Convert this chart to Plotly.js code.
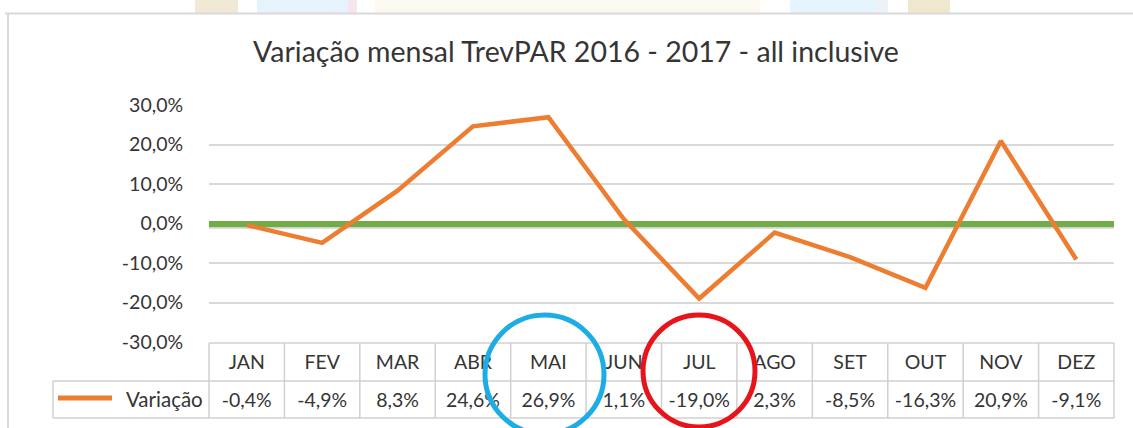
<!DOCTYPE html>
<html><head><meta charset="utf-8">
<script src="https://cdn.plot.ly/plotly-3.0.1.min.js"></script>
<style>html,body{margin:0;padding:0;background:#fff;overflow:hidden}#chart{width:1133px;height:428px}</style>
</head><body><div id="chart"></div>
<script>
// ---- data ----
const months = ['JAN','FEV','MAR','ABR','MAI','JUN','JUL','AGO','SET','OUT','NOV','DEZ'];
const variacao = [-0.4, -4.9, 8.3, 24.6, 26.9, 1.1, -19.0, -2.3, -8.5, -16.3, 20.9, -9.1];
const tableLabels = ['-0,4%','-4,9%','8,3%','24,6%','26,9%','1,1%','-19,0%','2,3%','-8,5%','-16,3%','20,9%','-9,1%'];
const yTickVals = [-30, -20, -10, 0, 10, 20, 30];
const yTickText = ['-30,0%','-20,0%','-10,0%','0,0%','10,0%','20,0%','30,0%'];
const seriesName = 'Variação';
const chartTitle = 'Variação mensal TrevPAR 2016 - 2017 - all inclusive';

// ---- geometry (pixels) ----
const W = 1133, H = 428;
const L = 209, R = 1114, T = 105, B = 342;
const px = p => (p - L) / (R - L);
const py = p => (B - p) / (B - T);
const FONT = 'Lato, "Open Sans", sans-serif';
const TXT = '#353535';
const FS = 19.5;
const ORANGE = '#ED7D31', GREEN = '#70AD47', GRID = '#d9d9d9', TBL = '#d0d0d0';

const idx = months.map((m, i) => i);

const traces = [
  {x: months, y: variacao, type: 'scatter', mode: 'lines', name: seriesName,
   line: {color: ORANGE, width: 4.5}, hoverinfo: 'skip', showlegend: false},
  {x: idx, y: variacao, xaxis: 'x2', type: 'scatter', mode: 'lines', opacity: 0,
   hoverinfo: 'skip', showlegend: false, line: {width: 0}}
];

const shapes = [];
// faint watermark strip at the top
const strip = [[195,238,'#efe9d6'],[257,348,'#e6f3fc'],[348,357,'#f4e5ee'],[375,760,'#fbf9f0'],
               [790,877,'#e6f4fd'],[877,888,'#eef2f4'],[908,950,'#efe8cf']];
strip.forEach(s => shapes.push({type:'rect', xref:'paper', yref:'paper', x0:px(s[0]), x1:px(s[1]),
  y0:py(0), y1:py(13), fillcolor:s[2], line:{width:0}, layer:'below'}));
// chart frame
shapes.push({type:'line', xref:'paper', yref:'paper', x0:px(5), x1:px(1133), y0:py(13.5), y1:py(13.5),
  line:{color:'#d9d9d9', width:2}});
shapes.push({type:'line', xref:'paper', yref:'paper', x0:px(8), x1:px(8), y0:py(13), y1:py(428),
  line:{color:'#d9d9d9', width:2}});
// shadow under zero line
shapes.push({type:'line', xref:'paper', yref:'y', x0:0, x1:1, y0:-0.7, y1:-0.7,
  line:{color:'rgba(0,0,0,0.18)', width:5}, layer:'below'});
// data table
const colW = (R - L) / months.length;
const tLine = (x0, x1, y0, y1) => shapes.push({type:'line', xref:'paper', yref:'paper',
  x0:px(x0), x1:px(x1), y0:py(y0), y1:py(y1), line:{color:TBL, width:1.5}});
tLine(L, R, 343, 343);
tLine(53, R, 381, 381);
tLine(53, R, 418, 418);
tLine(53, 53, 381, 418);
for (let i = 0; i <= months.length; i++) tLine(L + i * colW, L + i * colW, 343, 418);
// legend key line
shapes.push({type:'line', xref:'paper', yref:'paper', x0:px(58), x1:px(112), y0:py(398), y1:py(398),
  line:{color:ORANGE, width:5}});
// highlight circles
shapes.push({type:'circle', xref:'paper', yref:'paper', x0:px(485), x1:px(604), y0:py(315), y1:py(434),
  line:{color:'#1DADE4', width:5}, layer:'above'});
shapes.push({type:'circle', xref:'paper', yref:'paper', x0:px(643), x1:px(755), y0:py(315), y1:py(427),
  line:{color:'#E8141B', width:5}, layer:'above'});

const layout = {
  width: W, height: H,
  margin: {l: L, r: W - R, t: T, b: H - B, pad: 0},
  paper_bgcolor: '#fff', plot_bgcolor: 'rgba(0,0,0,0)',
  font: {family: FONT, color: TXT, size: FS},
  title: {text: chartTitle, font: {family: FONT, size: 28.5, color: TXT},
          xref: 'container', yref: 'container', x: 576 / W, xanchor: 'center',
          y: 1 - 52 / H, yanchor: 'middle'},
  showlegend: false,
  hovermode: false,
  xaxis: {type: 'category', categoryorder: 'array', categoryarray: months, range: [-0.5, 11.5],
          showgrid: false, zeroline: false, showline: false,
          ticks: 'outside', ticklen: 3, tickcolor: 'rgba(0,0,0,0)',
          tickfont: {family: FONT, size: FS, color: TXT}, fixedrange: true},
  xaxis2: {overlaying: 'x', anchor: 'y', side: 'bottom', range: [-0.5, 11.5],
           tickmode: 'array', tickvals: idx, ticktext: tableLabels,
           showgrid: false, zeroline: false, showline: false,
           ticks: 'outside', ticklen: 41, tickcolor: 'rgba(0,0,0,0)',
           tickfont: {family: FONT, size: FS, color: TXT}, fixedrange: true},
  yaxis: {range: [-30, 30], tickmode: 'array', tickvals: yTickVals, ticktext: yTickText,
          showgrid: true, gridcolor: GRID, gridwidth: 2,
          zeroline: true, zerolinecolor: GREEN, zerolinewidth: 6, showline: false,
          ticks: 'outside', ticklen: 21, tickcolor: 'rgba(0,0,0,0)',
          tickfont: {family: FONT, size: FS, color: TXT}, fixedrange: true},
  shapes: shapes,
  annotations: [
    {text: seriesName, xref: 'paper', yref: 'paper', x: px(205), y: py(398.5),
     xanchor: 'right', yanchor: 'middle', showarrow: false,
     font: {family: FONT, size: FS + 1, color: TXT}}
  ]
};

Plotly.newPlot('chart', traces, layout, {displayModeBar: false, staticPlot: true});
</script>
</body></html>
